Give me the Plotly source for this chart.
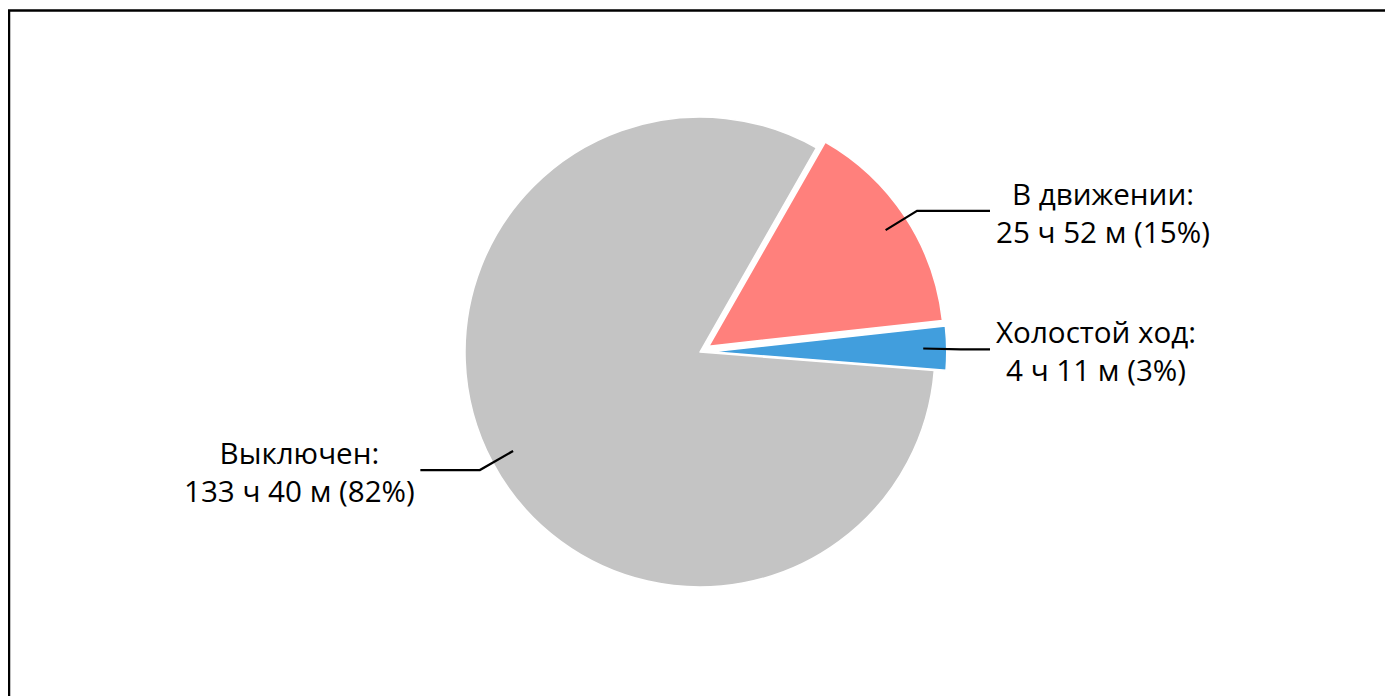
import math
import plotly.graph_objects as go

# ---- data ----
labels = ["Выключен", "В движении", "Холостой ход"]
durations = ["133 ч 40 м", "25 ч 52 м", "4 ч 11 м"]
percents = [82, 15, 3]
colors = ["#C4C4C4", "#FF807C", "#419EDD"]
pulls = [0.0, 0.045, 0.05]

W, H = 1393, 696
OFF = 8.0            # page body margin
ROT = 94.5           # clock angle where the first slice starts
CX, CY = 700.0 - OFF, 352.0 - OFF
R = 235.0
max_pull = max(pulls)
box = R * (2 + 2 * max_pull)

dom_y = [(H - CY - box / 2) / H, (H - CY + box / 2) / H]
dom_x = [(CX - box / 2 - 4) / W, (CX + box / 2 + 4) / W]

fig = go.Figure(go.Pie(
    labels=labels,
    values=percents,
    sort=False,
    direction="clockwise",
    rotation=ROT,
    pull=pulls,
    marker=dict(colors=colors, line=dict(color="white", width=1.5)),
    textinfo="none",
    hoverinfo="label+percent",
    showlegend=False,
    domain=dict(x=dom_x, y=dom_y),
))

def px2paper(x, y):
    return x / W, 1 - y / H

total = sum(percents)
angle = ROT
shapes = []
annotations = []
font = dict(family="Open Sans, Noto Sans, sans-serif", size=29.6, color="#000000")
for lab, dur, pct, pl in zip(labels, durations, percents, pulls):
    span = pct / total * 360.0
    mid = math.radians(angle + span / 2)
    angle += span
    sx, sy = math.sin(mid), -math.cos(mid)
    ox, oy = CX + pl * R * sx, CY + pl * R * sy
    p0 = (ox + 0.9 * R * sx, oy + 0.9 * R * sy)
    p1 = (ox + 1.06 * R * sx, oy + 1.06 * R * sy + 1.5)
    right = sx >= 0
    end_x = CX + 1.234 * R if right else CX - 1.19 * R
    p2 = (end_x, p1[1])
    pts = [px2paper(*p) for p in (p0, p1, p2)]
    path = "M {:.5f},{:.5f} L {:.5f},{:.5f} L {:.5f},{:.5f}".format(
        pts[0][0], pts[0][1], pts[1][0], pts[1][1], pts[2][0], pts[2][1])
    shapes.append(dict(type="path", xref="paper", yref="paper", path=path,
                       line=dict(color="#000000", width=2.2)))
    tx = end_x + 4 if right else end_x - 3
    ax, ay = px2paper(tx, p1[1] + 1.5)
    annotations.append(dict(
        x=ax, y=ay, xref="paper", yref="paper",
        xanchor="left" if right else "right", yanchor="middle",
        align="center", showarrow=False,
        text=f"{lab}:<br>{dur} ({pct}%)", font=font))

# outer frame (extends beyond the window on the right and bottom)
shapes.append(dict(type="rect", xref="paper", yref="paper",
                   x0=(9 - OFF) / W, x1=1.02, y0=-0.05, y1=1 - (10.5 - OFF) / H,
                   line=dict(color="#000000", width=2.5), fillcolor="rgba(0,0,0,0)"))

fig.update_layout(
    width=W, height=H,
    margin=dict(l=0, r=0, t=0, b=0),
    paper_bgcolor="white", plot_bgcolor="white",
    shapes=shapes, annotations=annotations,
)

fig.write_html("out.html")
